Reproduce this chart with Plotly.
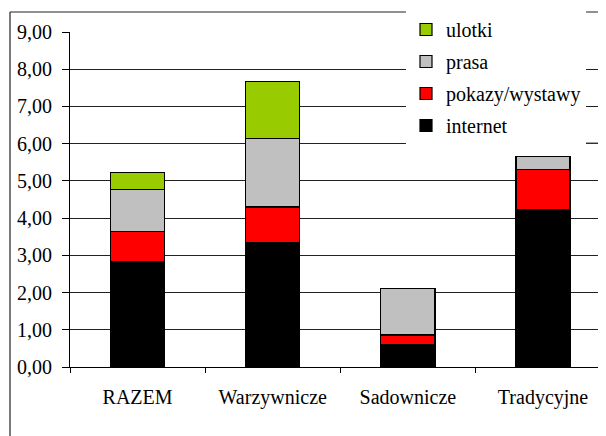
import plotly.graph_objects as go

categories = ["RAZEM", "Warzywnicze", "Sadownicze", "Tradycyjne"]
internet = [2.83, 3.33, 0.59, 4.24]
pokazy = [0.81, 0.97, 0.27, 1.06]
prasa = [1.12, 1.83, 1.25, 0.35]
ulotki = [0.46, 1.54, 0.0, 0.0]
y_ticks = [0, 1, 2, 3, 4, 5, 6, 7, 8, 9]

series = [
    ("internet", internet, "#000000"),
    ("pokazy/wystawy", pokazy, "#FF0000"),
    ("prasa", prasa, "#C0C0C0"),
    ("ulotki", ulotki, "#99CC00"),
]

FONT = "Liberation Serif, Times New Roman, Liberation Sans, serif"

fig = go.Figure()
n = len(series)
for i, (name, vals, col) in enumerate(series):
    fig.add_trace(go.Bar(
        x=categories, y=vals, name=name, legendgroup=name,
        legendrank=(n - i) * 10,
        marker=dict(color=col, line=dict(color="#000000", width=1.2)),
    ))

OFF = 8  # page body margin
W, H = 598, 428
L, R, T = 70 - OFF, 0, 32 - OFF
B = H - (367 - OFF)
pw, ph = W - L - R, H - T - B


def px_x(sx):
    return (sx - OFF - L) / pw


def px_y(sy):
    return (H - B - (sy - OFF)) / ph


fig.update_layout(
    width=W, height=H,
    margin=dict(l=L, r=R, t=T, b=B, pad=0),
    barmode="stack", bargap=0.6,
    paper_bgcolor="white", plot_bgcolor="white",
    separators=", ",
    font=dict(family=FONT, size=20, color="#000000"),
    legend=dict(
        x=px_x(406), y=px_y(10), xanchor="left", yanchor="top",
        bgcolor="white", borderwidth=0,
        font=dict(family=FONT, size=20, color="#000000"),
        traceorder="grouped", tracegroupgap=3,
    ),
    xaxis=dict(
        range=[-0.5, -0.5 + pw / 135.15],
        showline=True, linecolor="#000000", linewidth=1,
        ticks="outside", tickson="boundaries", ticklen=5, tickcolor="#000000",
        ticklabelstandoff=12, showgrid=False,
        tickfont=dict(family=FONT, size=20),
    ),
    yaxis=dict(
        range=[0, 9], tickvals=y_ticks, tickformat=".2f",
        showline=True, linecolor="#000000", linewidth=1,
        ticks="outside", ticklen=7, tickcolor="#000000",
        showgrid=True, gridcolor="#222222", gridwidth=1,
        ticklabelstandoff=6, zeroline=False,
        tickfont=dict(family=FONT, size=20),
    ),
    shapes=[
        dict(type="line", xref="paper", yref="paper",
             x0=px_x(10), x1=px_x(10), y0=px_y(12), y1=px_y(440),
             line=dict(color="#222222", width=1.2)),
        dict(type="line", xref="paper", yref="paper",
             x0=px_x(10), x1=1.0, y0=px_y(12), y1=px_y(12),
             line=dict(color="#222222", width=1.2)),
        dict(type="line", xref="paper", yref="paper",
             x0=px_x(417), x1=1.0, y0=px_y(143), y1=px_y(143),
             line=dict(color="#444444", width=1)),
    ],
)

fig.write_html("out.html")
